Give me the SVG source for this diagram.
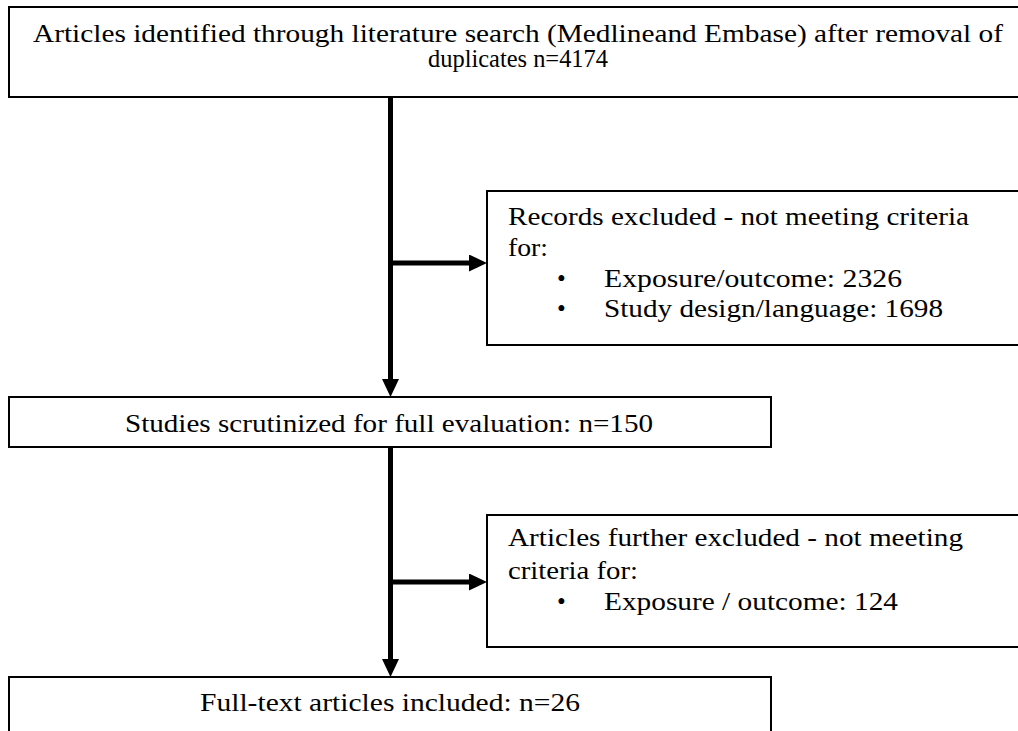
<svg xmlns="http://www.w3.org/2000/svg" width="1018" height="731" viewBox="0 0 1018 731">
  <style>
    .box { fill: #ffffff; stroke: #000000; stroke-width: 2; }
    .t { font-family: "Liberation Serif", "DejaVu Serif", serif; font-size: 25px; fill: #000000; }
    .c { text-anchor: middle; }
    .conn { stroke: #000000; stroke-width: 5; fill: none; marker-end: url(#arrow); }
  </style>
  <defs>
    <marker id="arrow" viewBox="0 0 18 17" refX="0" refY="8.5" markerWidth="18" markerHeight="17" markerUnits="userSpaceOnUse" orient="auto">
      <path d="M0,0 L18,8.5 L0,17 Z" fill="#000000"/>
    </marker>
  </defs>
  <rect x="0" y="0" width="1018" height="731" fill="#ffffff"/>

  <g id="connectors">
    <line class="conn" x1="390.5" y1="97" x2="390.5" y2="379"/>
    <line class="conn" x1="390.5" y1="447" x2="390.5" y2="659"/>
    <line class="conn" x1="390" y1="263" x2="469" y2="263"/>
    <line class="conn" x1="390" y1="582" x2="469" y2="582"/>
  </g>

  <g id="node-identified">
    <rect class="box" x="9" y="7" width="1030" height="90"/>
    <text class="t c" x="518" y="42" textLength="970" lengthAdjust="spacingAndGlyphs">Articles identified through literature search (Medlineand Embase) after removal of</text>
    <text class="t c" x="518" y="67" textLength="180" lengthAdjust="spacingAndGlyphs">duplicates n=4174</text>
  </g>

  <g id="node-records-excluded">
    <rect class="box" x="487" y="191" width="550" height="154"/>
    <text class="t" x="508" y="225" textLength="461" lengthAdjust="spacingAndGlyphs">Records excluded - not meeting criteria</text>
    <text class="t" x="508" y="256" textLength="40" lengthAdjust="spacingAndGlyphs">for:</text>
    <text class="t" x="557" y="287">•</text>
    <text class="t" x="604" y="287" textLength="298" lengthAdjust="spacingAndGlyphs">Exposure/outcome: 2326</text>
    <text class="t" x="557" y="317">•</text>
    <text class="t" x="604" y="317" textLength="339" lengthAdjust="spacingAndGlyphs">Study design/language: 1698</text>
  </g>

  <g id="node-scrutinized">
    <rect class="box" x="9" y="397" width="762" height="50"/>
    <text class="t c" x="389" y="432" textLength="528" lengthAdjust="spacingAndGlyphs">Studies scrutinized for full evaluation: n=150</text>
  </g>

  <g id="node-further-excluded">
    <rect class="box" x="487" y="515" width="550" height="132"/>
    <text class="t" x="508" y="546" textLength="455" lengthAdjust="spacingAndGlyphs">Articles further excluded - not meeting</text>
    <text class="t" x="508" y="579" textLength="130" lengthAdjust="spacingAndGlyphs">criteria for:</text>
    <text class="t" x="557" y="610">•</text>
    <text class="t" x="604" y="610" textLength="294" lengthAdjust="spacingAndGlyphs">Exposure / outcome: 124</text>
  </g>

  <g id="node-included">
    <rect class="box" x="9" y="677" width="762" height="70"/>
    <text class="t c" x="390" y="711" textLength="380" lengthAdjust="spacingAndGlyphs">Full-text articles included: n=26</text>
  </g>
</svg>
